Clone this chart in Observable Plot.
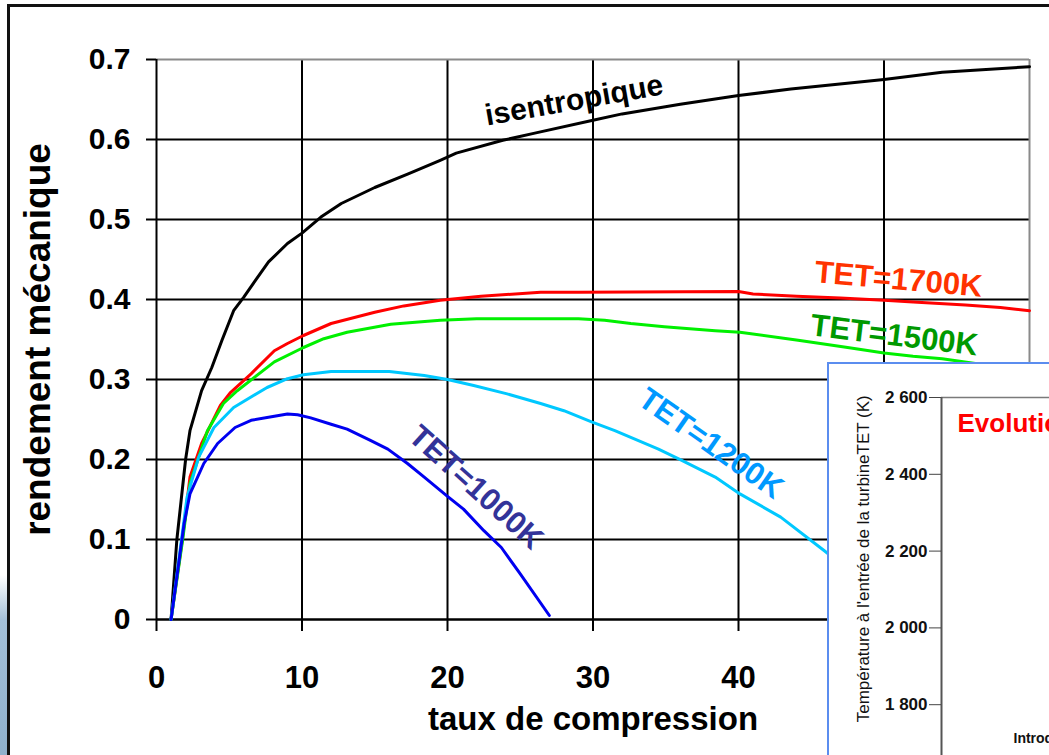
<!DOCTYPE html>
<html>
<head>
<meta charset="utf-8">
<script src="https://cdn.jsdelivr.net/npm/d3@7"></script>
<script src="https://cdn.jsdelivr.net/npm/@observablehq/plot@0.6"></script>
<style>
  html, body { margin: 0; padding: 0; background: #fff; }
  body { width: 1049px; height: 755px; overflow: hidden; position: relative;
         font-family: "Liberation Sans", Arial, sans-serif; }
  #chart { position: absolute; left: 0; top: 0; }
  #frameTop { position: absolute; left: 7px; top: 4px; width: 1042px; height: 0; border-top: 3px solid #111; }
  #frameLeft { position: absolute; left: 7px; top: 4px; width: 0; height: 751px; border-left: 3px solid #111; }
  #strip { position: absolute; left: 0; top: 575px; width: 7px; height: 180px;
           background: linear-gradient(to bottom, rgba(160,190,215,0), #a4c0d8 25%, #8fb0cc); }
  #inset { position: absolute; left: 827px; top: 362px; width: 260px; height: 420px;
           border: 2px solid #5b8def; background: #fff; overflow: hidden; }
</style>
</head>
<body>
<div id="strip"></div>
<div id="chart"></div>
<div id="frameTop"></div>
<div id="frameLeft"></div>
<div id="inset"></div>
<script>
// Rendement mécanique du cycle en fonction du taux de compression
const ratioIsen = [1, 1.4, 2, 2.3, 3.1, 3.8, 4.5, 5.3, 6, 6.8, 7.7, 9, 10, 11.3, 12.7, 15, 17.3, 19.5, 20.6, 23.8, 26, 30, 32, 36, 40, 43.6, 50, 54, 60];
const effIsen   = [0, 0.10, 0.20, 0.236, 0.286, 0.315, 0.349, 0.386, 0.403, 0.424, 0.447, 0.470, 0.483, 0.503, 0.520, 0.540, 0.557, 0.574, 0.583, 0.599, 0.608, 0.624, 0.632, 0.644, 0.655, 0.663, 0.675, 0.684, 0.691];

const ratio1700 = [1, 1.8, 2.3, 3.1, 4.4, 5.1, 6.5, 8.1, 9, 10.1, 12, 15, 17, 19.5, 22.3, 26.4, 29, 40, 41, 44, 47, 50, 52, 55.6, 58, 60];
const eff1700   = [0, 0.103, 0.178, 0.22, 0.268, 0.284, 0.307, 0.336, 0.345, 0.355, 0.370, 0.384, 0.392, 0.399, 0.404, 0.409, 0.409, 0.41, 0.407, 0.404, 0.402, 0.399, 0.397, 0.393, 0.39, 0.386];

const ratio1500 = [1, 1.8, 2.3, 3.5, 4.6, 5.55, 8.1, 10.1, 11.5, 13.1, 16.1, 19.5, 22, 29, 30.8, 32.6, 34.9, 38.4, 40.1, 44.1, 47.5, 50, 52, 54, 57, 60];
const eff1500   = [0, 0.10, 0.17, 0.236, 0.27, 0.286, 0.322, 0.34, 0.351, 0.359, 0.369, 0.374, 0.376, 0.376, 0.374, 0.37, 0.366, 0.361, 0.359, 0.349, 0.34, 0.333, 0.329, 0.326, 0.318, 0.31];

const ratio1200 = [1, 2.1, 2.9, 3.95, 5.3, 7.6, 9, 10.1, 12, 16, 18.4, 20, 21.8, 24.1, 26.4, 28, 29.9, 31.5, 34.5, 36.1, 38.4, 40.1, 42.9, 45.9, 47];
const eff1200   = [0, 0.153, 0.203, 0.24, 0.265, 0.29, 0.301, 0.306, 0.31, 0.31, 0.305, 0.30, 0.2925, 0.282, 0.27, 0.261, 0.247, 0.236, 0.213, 0.199, 0.178, 0.157, 0.128, 0.086, 0.07];

const ratio1000 = [1, 1.9, 2.3, 3.25, 4.2, 5.4, 6.5, 8.1, 9, 9.7, 10.6, 12, 13.1, 14.7, 15.9, 17.25, 18.4, 20, 21.1, 22.5, 23.7, 25, 27];
const eff1000   = [0, 0.12, 0.157, 0.195, 0.22, 0.24, 0.249, 0.254, 0.257, 0.256, 0.252, 0.244, 0.238, 0.224, 0.213, 0.195, 0.178, 0.154, 0.138, 0.111, 0.09, 0.057, 0.005];

const xTicks = [0, 10, 20, 30, 40, 50, 60];
const xTickLabels = ["0", "10", "20", "30", "40", "50", "60"];
const yTicks = [0, 0.1, 0.2, 0.3, 0.4, 0.5, 0.6, 0.7];
const yTickLabels = ["0", "0.1", "0.2", "0.3", "0.4", "0.5", "0.6", "0.7"];

const seriesNames = ["isentropique", "TET=1700K", "TET=1500K", "TET=1200K", "TET=1000K"];
const xLabel = "taux de compression";
const yLabel = "rendement mécanique";

// Encart : température d'entrée turbine
const insetTicks = [1800, 2000, 2200, 2400, 2600];
const insetTickLabels = ["1 800", "2 000", "2 200", "2 400", "2 600"];
const insetAxisTitle = "Température à l'entrée de la turbineTET (K)";
const insetTitle = "Evolution";
const insetNote = "Introduction";

// long table built from the series arrays
const rows = [];
[[ratioIsen, effIsen], [ratio1700, eff1700], [ratio1500, eff1500], [ratio1200, eff1200], [ratio1000, eff1000]]
  .forEach(([xs, ys], k) => xs.forEach((x, i) => rows.push({serie: seriesNames[k], ratio: x, eff: ys[i]})));

const lineColor = {
  "isentropique": "#000000", "TET=1700K": "#ff0000", "TET=1500K": "#00f000",
  "TET=1200K": "#00c8ff", "TET=1000K": "#0000f0"
};
const font = '"Liberation Sans", Arial, sans-serif';

const curve = name => Plot.line(rows.filter(d => d.serie === name),
  {x: "ratio", y: "eff", stroke: lineColor[name], strokeWidth: 3, strokeLinejoin: "round"});

const label = (name, x, y, angle, color, size) => Plot.text([name],
  {x: () => x, y: () => y, text: d => d, rotate: angle, fill: color, fontSize: size, fontWeight: "bold"});

const chart = Plot.plot({
  width: 1049, height: 755,
  marginLeft: 156, marginRight: 20, marginTop: 59, marginBottom: 136,
  x: {domain: [0, 60]},
  y: {domain: [0, 0.7]},
  style: {fontFamily: font, fontWeight: "bold", background: "transparent", color: "#000", overflow: "visible"},
  marks: [
    Plot.ruleY(yTicks.filter(d => d > 0 && d < 0.7), {stroke: "#000", strokeWidth: 2}),
    Plot.ruleX(xTicks.filter(d => d > 0 && d < 60), {stroke: "#000", strokeWidth: 2}),
    Plot.ruleY([0.7], {stroke: "#8a8a8a", strokeWidth: 2}),
    Plot.ruleX([60], {stroke: "#8a8a8a", strokeWidth: 2}),
    Plot.axisY(yTicks, {tickSize: 10, tickPadding: 16, fontSize: 30, strokeWidth: 2,
      tickFormat: d => yTickLabels[yTicks.indexOf(d)], label: null}),
    Plot.axisX(xTicks, {tickSize: 12, tickPadding: 34, fontSize: 31, strokeWidth: 2,
      tickFormat: d => xTickLabels[xTicks.indexOf(d)], label: null}),
    Plot.ruleX([0], {stroke: "#000", strokeWidth: 2}),
    Plot.ruleY([0], {stroke: "#000", strokeWidth: 2.5}),
    ...seriesNames.map(curve),
    Plot.text([yLabel], {text: d => d, frameAnchor: "left", textAnchor: "middle", dx: -118, rotate: -90, fontSize: 37}),
    Plot.text([xLabel], {text: d => d, frameAnchor: "bottom", dy: 110, fontSize: 33}),
    label("isentropique", 28.7, 0.649, -10, "#000000", 30),
    label("TET=1700K", 51.0, 0.425, 5, "#ff3300", 31),
    label("TET=1500K", 50.7, 0.355, 7, "#009900", 31),
    label("TET=1200K", 38.1, 0.22, 35, "#0099ff", 31),
    label("TET=1000K", 21.95, 0.165, 42, "#333399", 31)
  ]
});
document.getElementById("chart").append(chart);

const inset = Plot.plot({
  width: 260, height: 417,
  marginLeft: 112, marginRight: 0, marginTop: 33, marginBottom: 0,
  x: {domain: [0, 1]},
  y: {domain: [1600, 2600]},
  style: {fontFamily: font, background: "transparent", color: "#111", overflow: "visible"},
  marks: [
    Plot.ruleY([2600], {stroke: "#7a7a7a", strokeWidth: 1.5}),
    Plot.ruleX([0], {stroke: "#555", strokeWidth: 2}),
    Plot.axisY(insetTicks, {tickSize: 12, tickPadding: 2, fontSize: 17, fontWeight: "bold",
      stroke: "#444", tickFormat: d => insetTickLabels[insetTicks.indexOf(d)], label: null}),
    Plot.text([insetAxisTitle], {text: d => d, y: () => 2180, frameAnchor: "left", textAnchor: "middle",
      dx: -78, rotate: -90, fontSize: 17, fill: "#111"}),
    Plot.text([insetTitle], {text: d => d, frameAnchor: "top-left", dx: 16, dy: 16,
      lineAnchor: "top", textAnchor: "start", fill: "#ff0000", fontSize: 26, fontWeight: "bold"}),
    Plot.text([insetNote], {text: d => d, frameAnchor: "top-left", dx: 72, dy: 336,
      lineAnchor: "top", textAnchor: "start", fill: "#111", fontSize: 14, fontWeight: "bold"})
  ]
});
document.getElementById("inset").append(inset);
</script>
</body>
</html>
